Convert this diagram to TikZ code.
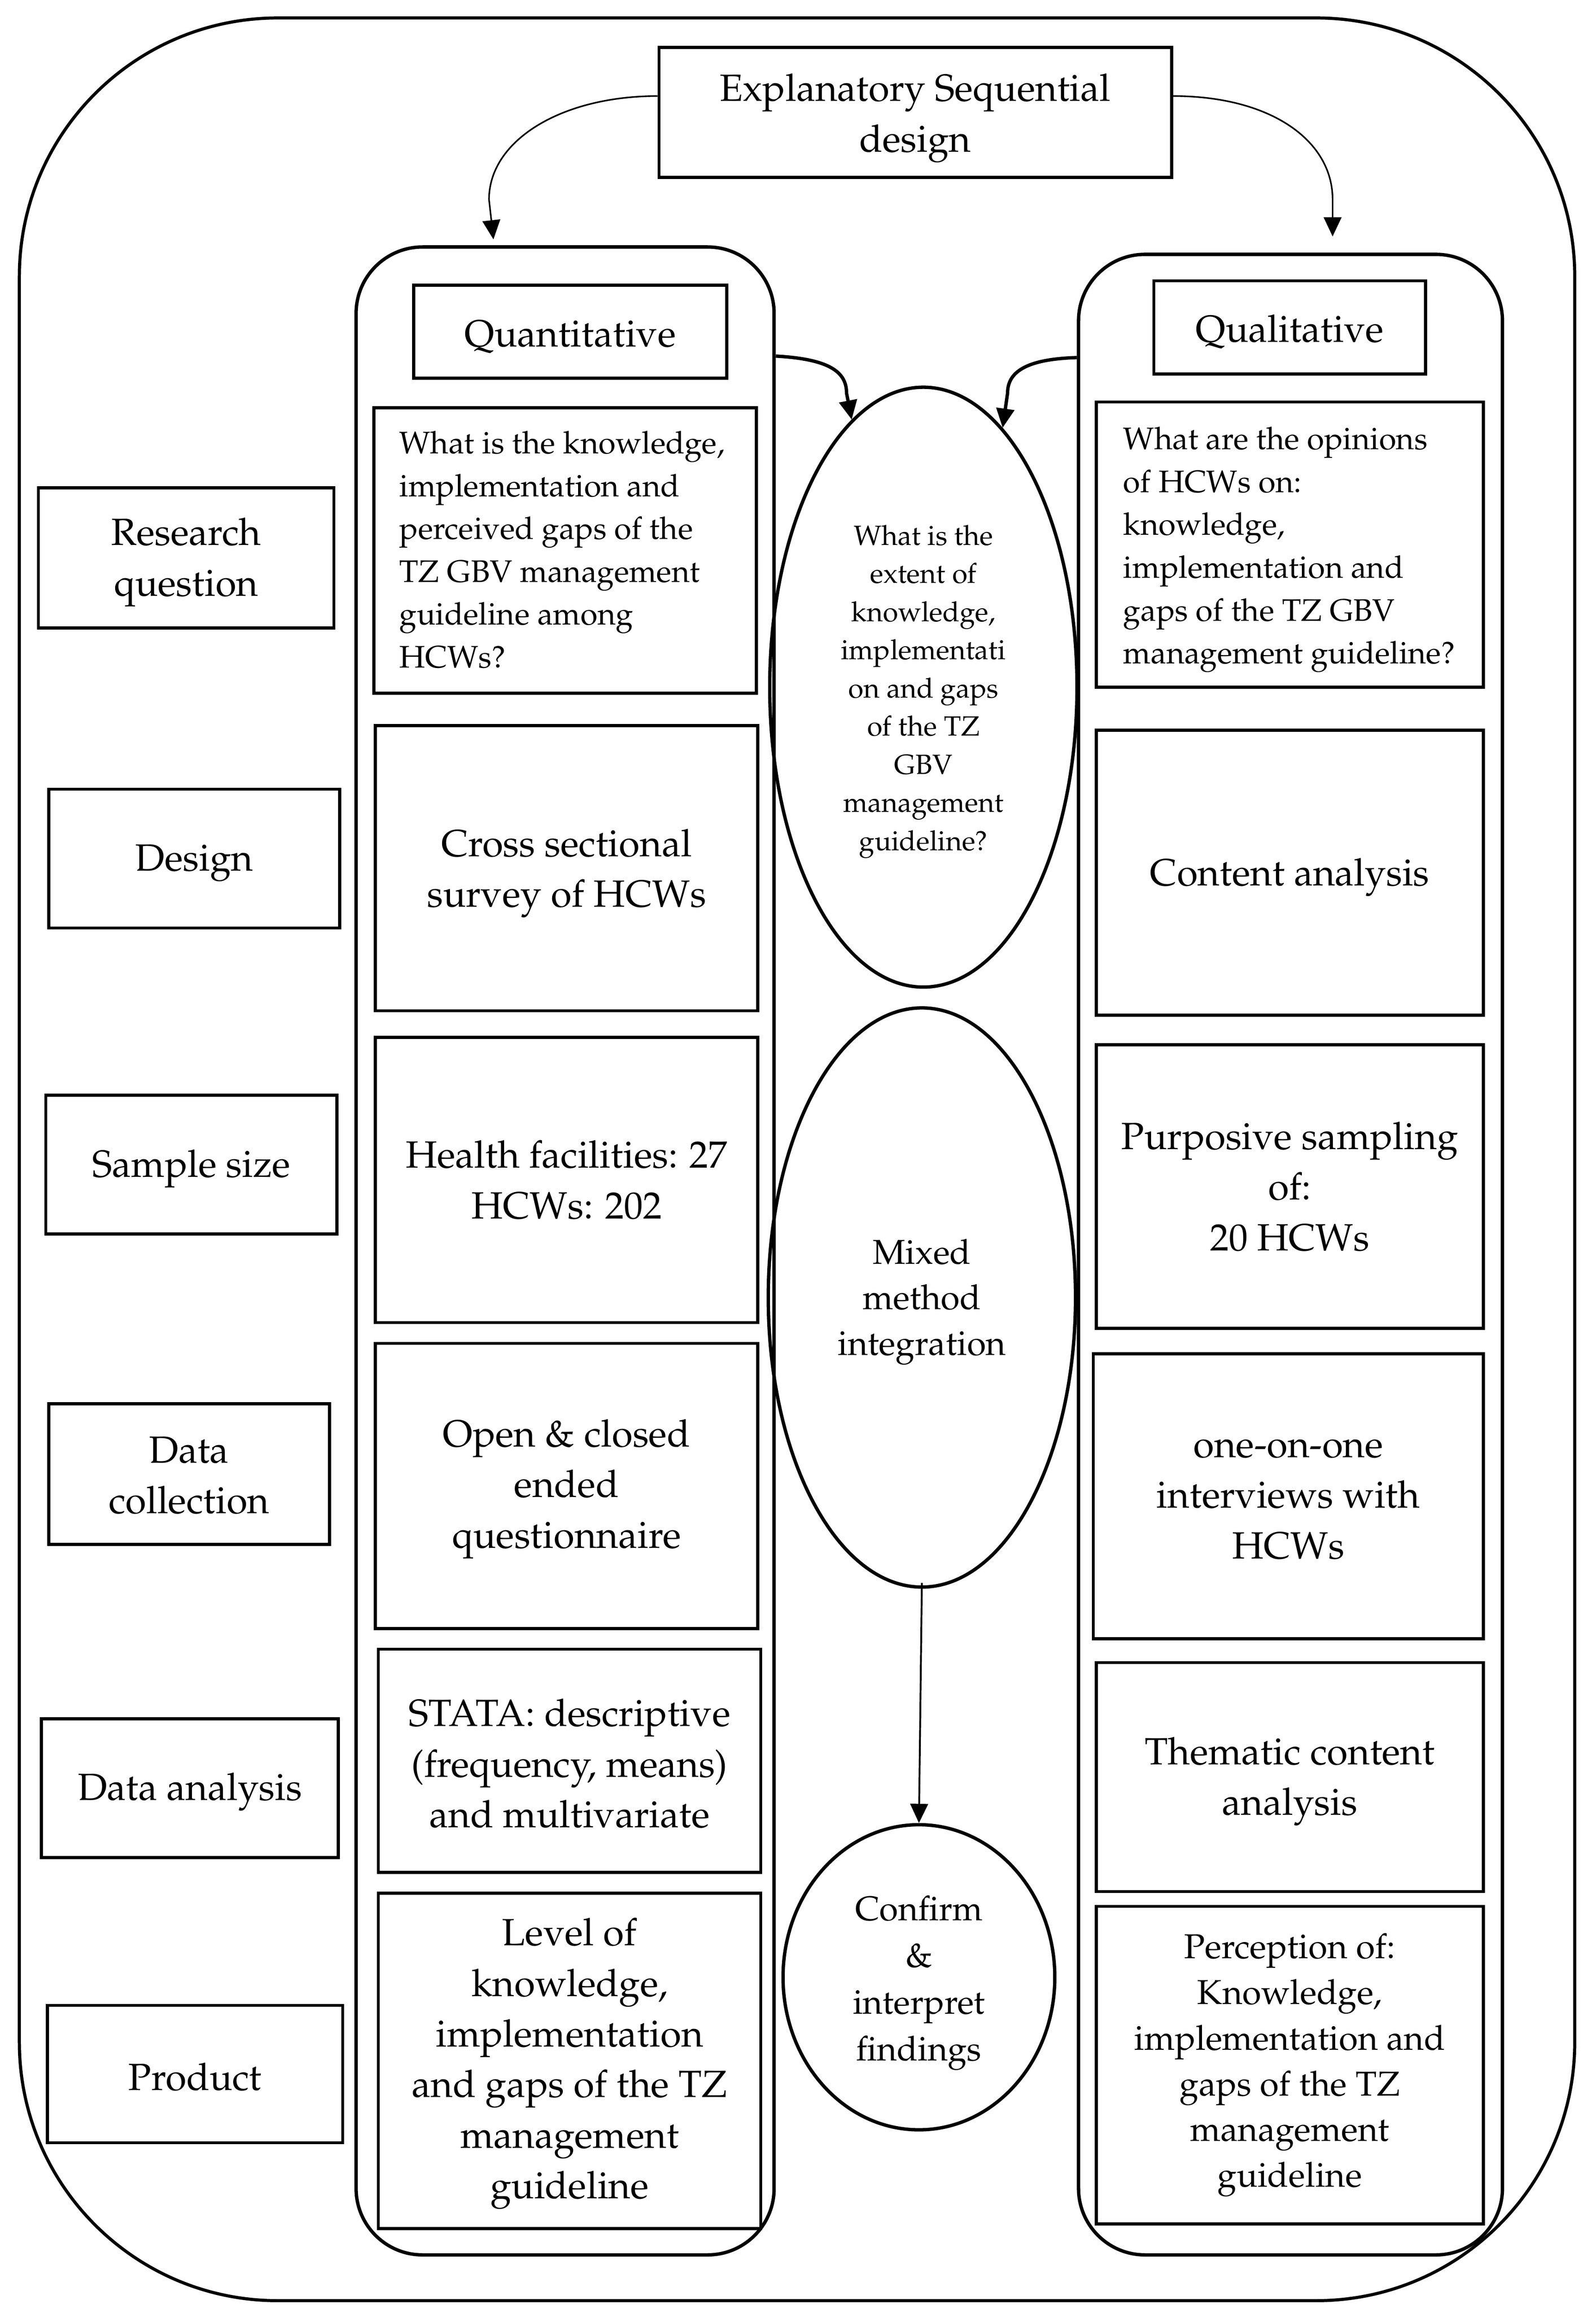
\documentclass[tikz,border=0pt]{standalone}
\usepackage[T1]{fontenc}
\renewcommand{\rmdefault}{ppl}
\usetikzlibrary{arrows.meta,shapes.geometric}
\newcommand\fmain{\fontsize{14.6}{19.5}\selectfont}
\newcommand\fsmall{\fontsize{12}{16.5}\selectfont}
\newcommand\fell{\fontsize{10.7}{14.7}\selectfont}
\newcommand\fmid{\fontsize{13.3}{17.6}\selectfont}
\newcommand\fconf{\fontsize{13.2}{18}\selectfont}
\tikzset{
 outerframe/.style={draw, line width=1.2pt, rounded corners=3.5cm, inner sep=0},
 colbox/.style={draw, line width=1.3pt, rounded corners=0.9cm, inner sep=0},
 cellbox/.style={draw, line width=1.2pt, inner sep=0},
 celltext/.style={inner sep=0, align=center, font=\fmain},
 ovalnode/.style={draw, ellipse, line width=1.3pt, inner sep=0},
 rqtext/.style={anchor=west, align=left, font=\fsmall, inner sep=0},
 arrowtip/.style={-{Triangle[length=0.26cm,width=0.24cm]}},
 thinarrow/.style={arrowtip, line width=0.6pt},
 thickarrow/.style={arrowtip, line width=1.3pt},
 midarrow/.style={arrowtip, line width=0.7pt},
}
% \cellnode[text options]{name}{x}{y}{width}{height}{text shift}{text}
\newcommand\cellnode[8][]{%
 \node[cellbox, minimum width=#5, minimum height=#6] (#2) at (#3,#4) {};
 \node[celltext,#1] (#2t) at (#3,#4+#7) {#8};}
\begin{document}
\begin{tikzpicture}[x=0.02cm,y=-0.02cm]
\useasboundingbox (0,0) rectangle (1080,1565.2);
% outer frame
\node[outerframe, minimum width=21.06cm, minimum height=30.9cm] (frame) at (539.5,784.5) {};
% columns
\node[colbox, minimum width=5.66cm, minimum height=27.18cm] (quantcol) at (382.5,846.5) {};
\node[colbox, minimum width=5.74cm, minimum height=27.08cm] (qualcol) at (873.5,849) {};
% top box
\cellnode{expl}{619.5}{76}{6.94cm}{1.76cm}{4}{Explanatory Sequential\\design}
% left labels
\cellnode{lrq}{126}{377.5}{4.0cm}{1.9cm}{3}{Research\\question}
\cellnode{ldes}{131.5}{581}{3.94cm}{1.88cm}{3}{Design}
\cellnode{lsam}{129.5}{788}{3.94cm}{1.88cm}{3}{Sample size}
\cellnode{ldc}{128}{997.5}{3.8cm}{1.9cm}{1}{Data\\collection}
\cellnode{lda}{128.5}{1210}{4.02cm}{1.88cm}{2.5}{Data analysis}
\cellnode{lprod}{132}{1403.5}{4.0cm}{1.86cm}{2}{Product}
% quantitative column
\cellnode{qhead}{386}{224.5}{4.24cm}{1.26cm}{3.5}{Quantitative}
\node[cellbox, minimum width=5.18cm, minimum height=3.86cm] (qrq) at (382.5,372.5) {};
\node[rqtext] (qrqtxt) at (270,372) {What is the knowledge,\\implementation and\\perceived gaps of the\\TZ GBV management\\guideline among\\HCWs?};
\cellnode{qdes}{383.5}{587.5}{5.18cm}{3.86cm}{3.5}{Cross sectional\\survey of HCWs}
\cellnode{qsam}{383.5}{798.5}{5.18cm}{3.86cm}{0}{Health facilities: 27\\HCWs: 202}
\cellnode{qdc}{383.5}{1005.5}{5.18cm}{3.86cm}{2}{Open \& closed\\ended\\questionnaire}
\cellnode{qda}{385.5}{1191.5}{5.18cm}{3.02cm}{2}{STATA: descriptive\\(frequency, means)\\and multivariate}
\cellnode{qprod}{385.5}{1394.5}{5.18cm}{4.54cm}{2}{Level of\\knowledge,\\implementation\\and gaps of the TZ\\management\\guideline}
% qualitative column
\cellnode{lhead}{873}{221.5}{3.68cm}{1.26cm}{3}{Qualitative}
\node[cellbox, minimum width=5.24cm, minimum height=3.86cm] (lrqb) at (873,368.5) {};
\node[rqtext] (lrqtxt) at (760,372) {What are the opinions\\of HCWs on:\\knowledge,\\implementation and\\gaps of the TZ GBV\\management guideline?};
\cellnode{ldesb}{873}{590.5}{5.24cm}{3.86cm}{3}{Content analysis}
\cellnode{lsamb}{873}{803}{5.24cm}{3.84cm}{0}{Purposive sampling\\of:\\20 HCWs}
\cellnode{ldcb}{872}{1012.5}{5.28cm}{3.86cm}{2}{one-on-one\\interviews with\\HCWs}
\cellnode{ldab}{873}{1202.5}{5.24cm}{3.1cm}{3}{Thematic content\\analysis}
\cellnode[font=\fmid]{lprodb}{873}{1397.5}{5.24cm}{4.3cm}{0}{Perception of:\\Knowledge,\\implementation and\\gaps of the TZ\\management\\guideline}
% ellipses
\node[ovalnode, minimum width=4.16cm, minimum height=8.12cm] (e1) at (625,465) {};
\node[celltext, font=\fell] (e1t) at (625,468) {What is the\\extent of\\knowledge,\\implementati\\on and gaps\\of the TZ\\GBV\\management\\guideline?};
\node[ovalnode, minimum width=4.16cm, minimum height=7.84cm] (e2) at (624,878) {};
\node[celltext, font=\fmid] (e2t) at (624,881) {Mixed\\method\\integration};
\node[ovalnode, minimum width=3.68cm, minimum height=4.13cm] (e3) at (622,1338) {};
\node[celltext, font=\fconf] (e3t) at (622,1342) {Confirm\\\&\\interpret\\findings};
% arrow end points
\coordinate (qtip) at (334,162);
\coordinate (rtip) at (902,160);
% connectors
\draw[thinarrow] ([yshift=0.22cm]expl.west) .. controls (380,65) and (331,95) .. (331,135) -- (qtip);
\draw[thinarrow] ([yshift=0.22cm]expl.east) .. controls (860,65) and (902,95) .. (902,135) -- (rtip);
\draw[thickarrow] ([yshift=-1.5cm]quantcol.north east) .. controls (562,243) and (573,252) .. (573,266) -- (e1.105);
\draw[thickarrow] ([yshift=-1.42cm]qualcol.north west) .. controls (694,243) and (682,252) .. (682,266) -- (e1.73);
\draw[midarrow] ([yshift=0.08cm]e2.south) -- (e3.north);
\end{tikzpicture}
\end{document}
